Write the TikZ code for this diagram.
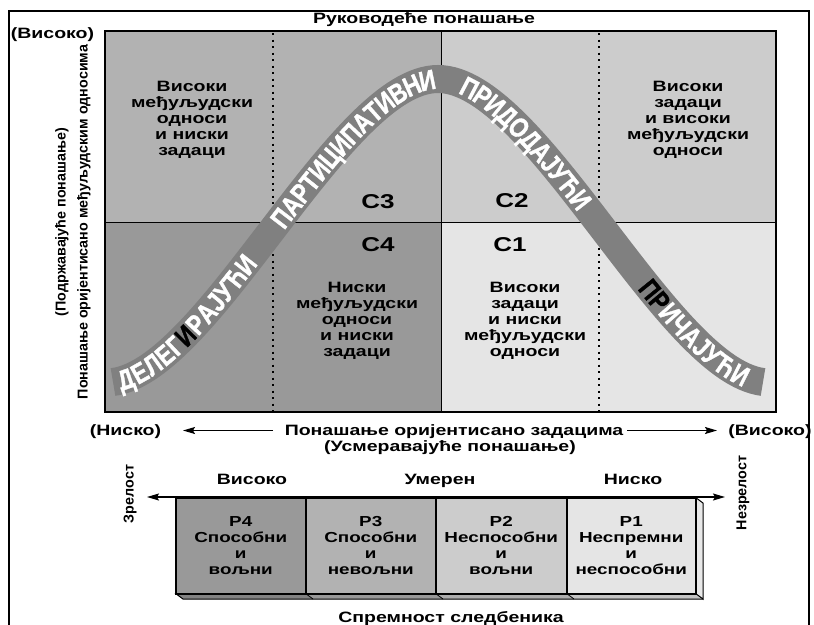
\documentclass[tikz,border=0pt]{standalone}
\usepackage{fontspec}
\setmainfont{Liberation Sans}
\newfontfamily\widefont[FakeStretch=1.3]{Liberation Sans}
\newfontfamily\bandfont[FakeStretch=0.8,FakeBold=1.2]{Liberation Sans}
\usetikzlibrary{decorations.text,arrows.meta}

\definecolor{qTL}{gray}{0.70}
\definecolor{qTR}{gray}{0.80}
\definecolor{qBL}{gray}{0.60}
\definecolor{qBR}{gray}{0.90}
\definecolor{bandgray}{gray}{0.50}
\definecolor{rP4}{gray}{0.60}
\definecolor{rP3}{gray}{0.70}
\definecolor{rP2}{gray}{0.80}
\definecolor{rP1}{gray}{0.90}

% letter formats for the lettering on the curved band
\newcommand\bandW{\bandfont\bfseries\fontsize{28}{30}\selectfont\color{white}}
\newcommand\bandK{\bandfont\bfseries\fontsize{28}{30}\selectfont\color{black}}

\tikzset{
  lbl/.style={inner sep=0pt, align=center, font=\widefont\bfseries\fontsize{15}{16}\selectfont},
  quadtxt/.style={lbl, anchor=north},
  boxtxt/.style={draw, line width=1.5pt, inner sep=0pt, align=center,
    minimum height=96pt, font=\widefont\bfseries\fontsize{14.5}{16}\selectfont},
  quadtag/.style={inner sep=0pt, anchor=base, font=\widefont\bfseries\fontsize{20}{22}\selectfont},
  vlab/.style={inner sep=0pt, rotate=90, font=\bfseries\fontsize{14.3}{17}\selectfont},
  axtxt/.style={inner sep=0pt, anchor=base, font=\widefont\bfseries\fontsize{15}{16}\selectfont},
  frameline/.style={line width=1.5pt},
  gridline/.style={line width=1.5pt},
  dotline/.style={line width=2pt, dash pattern=on 2pt off 4.5pt},
  tipline/.style={-{Stealth[length=12pt,width=7pt,inset=2pt]}, line width=1.2pt},
  bandletters/.style={decorate, decoration={text along path, raise=-10pt, #1}},
}

\begin{document}
\begin{tikzpicture}[x=1pt, y=-1pt]
\useasboundingbox (0,0) rectangle (814,624);

% outer frame
\draw[frameline] (9,626) -- (9,11) -- (809,11) -- (809,626);

% quadrants
\fill[qTL] (105,31) rectangle (441.5,222.5);
\fill[qTR] (441.5,31) rectangle (776,222.5);
\fill[qBL] (105,222.5) rectangle (441.5,412);
\fill[qBR] (441.5,222.5) rectangle (776,412);
\draw[dotline] (273,33) -- (273,412);
\draw[dotline] (599,33) -- (599,412);
\draw[gridline] (441.5,31) -- (441.5,412);
\draw[gridline] (105,222.5) -- (776,222.5);
\draw[gridline] (105,31) rectangle (776,412);

% the bell-shaped band
\coordinate (b0) at (113,382);
\coordinate (b1) at (210,370);
\coordinate (b2) at (340,79);
\coordinate (b3) at (438,79);
\coordinate (b4) at (536,79);
\coordinate (b5) at (666,370);
\coordinate (b6) at (763,382);
\draw[bandgray, line width=28pt] (b0) .. controls (b1) and (b2) .. (b3)
  .. controls (b4) and (b5) .. (b6);

\path[bandletters={text align={left indent=5pt},
  text={|\bandW|ДЕЛЕГ|\bandK|И|\bandW|РАЈУЋИ}}]
  (b0) .. controls (b1) and (b2) .. (b3);
\path[bandletters={text align={right, right indent=3pt},
  text={|\bandW|ПАРТИЦИПАТИВНИ}}]
  (b0) .. controls (b1) and (b2) .. (b3);
\path[bandletters={text align={left indent=25pt},
  text={|\bandW|ПРИДОДАЈУЋИ}}]
  (b3) .. controls (b4) and (b5) .. (b6);
\path[bandletters={text align={right, right indent=16pt},
  text={|\bandK|ПР|\bandW|ИЧАЈУЋИ}}]
  (b3) .. controls (b4) and (b5) .. (b6);

% headings and quadrant texts
\node[lbl, anchor=base] (title) at (424,23) {Руководеће понашање};
\node[lbl, anchor=base] (hiY) at (52.5,38.5) {(Високо)};
\node[quadtxt] (qa) at (192,81.3) {Високи\\међуљудски\\односи\\и ниски\\задаци};
\node[quadtxt] (qb) at (688,81.3) {Високи\\задаци\\и високи\\међуљудски\\односи};
\node[quadtxt] (qc) at (357,282.3) {Ниски\\међуљудски\\односи\\и ниски\\задаци};
\node[quadtxt] (qd) at (525,282.3) {Високи\\задаци\\и ниски\\међуљудски\\односи};
\node[quadtag] (s3) at (378,208) {С3};
\node[quadtag] (s2) at (512,207.5) {С2};
\node[quadtag] (s4) at (378,251.5) {С4};
\node[quadtag] (s1) at (510,251.5) {С1};

% vertical axis
\node[vlab] (ylabA) at (62,222) {(Подржавајуће понашање)};
\node[vlab] (ylabB) at (84,222) {Понашање оријентисано међуљудским односима};

% horizontal axis
\node[lbl, anchor=base] (loX) at (125.5,435) {(Ниско)};
\node[axtxt] (xlabA) at (454,435) {Понашање оријентисано задацима};
\node[lbl, anchor=base] (hiX) at (770,435) {(Високо)};
\node[axtxt] (xlabB) at (450,451) {(Усмеравајуће понашање)};
\coordinate (xl0) at (273,430.5);
\coordinate (xl1) at (183,430.5);
\coordinate (xr0) at (627,430.5);
\coordinate (xr1) at (717,430.5);
\draw[tipline] (xl0) -- (xl1);
\draw[tipline] (xr0) -- (xr1);

% follower readiness scale
\fill[rP4!85!black] (175,593) -- (305,593) -- (313,599) -- (183,599) -- cycle;
\fill[rP3!85!black] (305,593) -- (435,593) -- (443,599) -- (313,599) -- cycle;
\fill[rP2!85!black] (435,593) -- (566,593) -- (574,599) -- (443,599) -- cycle;
\fill[rP1!85!black] (566,593) -- (695,593) -- (703,599) -- (574,599) -- cycle;
\draw[line width=1pt] (175,593) -- (183,599) -- (703,599);
\draw[line width=0.8pt] (305,593) -- (313,599) (435,593) -- (443,599) (566,593) -- (574,599);
\filldraw[fill=rP1!90, line width=1pt] (695,497) -- (703,503) -- (703,599) -- (695,593) -- cycle;

\node[boxtxt, fill=rP4, minimum width=130pt, anchor=north west] (p4) at (175,497) {Р4\\Способни\\и\\вољни};
\node[boxtxt, fill=rP3, minimum width=130pt, anchor=north west] (p3) at (305,497) {Р3\\Способни\\и\\невољни};
\node[boxtxt, fill=rP2, minimum width=131pt, anchor=north west] (p2) at (435,497) {Р2\\Неспособни\\и\\вољни};
\node[boxtxt, fill=rP1, minimum width=129pt, anchor=north west] (p1) at (566,497) {Р1\\Неспремни\\и\\неспособни};

\coordinate (mL) at (147,497);
\coordinate (mR) at (725,497);
\draw[tipline, {Stealth[length=12pt,width=7pt,inset=2pt]}-{Stealth[length=12pt,width=7pt,inset=2pt]}] (mL) -- (mR);

\node[lbl, anchor=base] (lvA) at (252,484) {Високо};
\node[lbl, anchor=base] (lvB) at (440,484) {Умерен};
\node[lbl, anchor=base] (lvC) at (633,484) {Ниско};
\node[vlab] (mature) at (130,494) {Зрелост};
\node[vlab] (immature) at (743,493) {Незрелост};
\node[lbl, anchor=base] (ready) at (451,622) {Спремност следбеника};
\end{tikzpicture}
\end{document}
